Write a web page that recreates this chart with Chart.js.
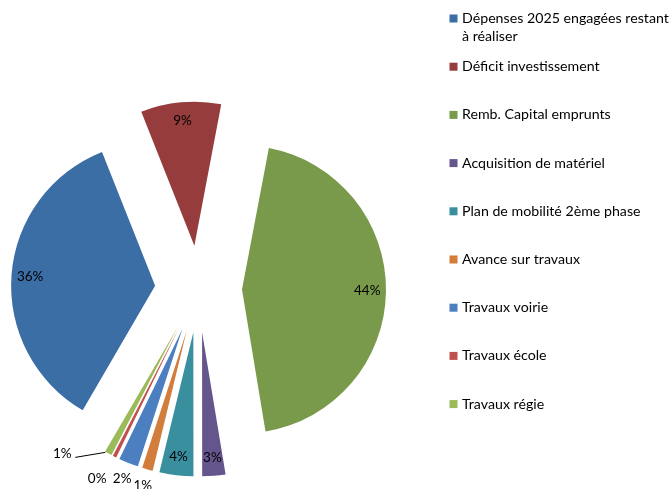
<!DOCTYPE html>
<html>
<head>
<meta charset="utf-8">
<script src="https://cdn.jsdelivr.net/npm/chart.js@4"></script>
<style>
  body { margin: 0; background: #fff; }
  #wrap { width: 670px; height: 489px; }
</style>
</head>
<body>
<div id="wrap"><canvas id="myChart" width="670" height="489"></canvas></div>
<script>
// categories (legend order = slice order, clockwise)
var categories = [
	["Dépenses 2025 engagées restant", "à réaliser"],
	"Déficit investissement",
	"Remb. Capital emprunts",
	"Acquisition de matériel",
	"Plan de mobilité 2ème phase",
	"Avance sur travaux",
	"Travaux voirie",
	"Travaux école",
	"Travaux régie"
];

// share of the total
var values = [35.6, 9.0, 44.4, 2.6, 3.8, 1.2, 2.2, 0.4, 0.8];

var colors = ["#3A6EA5", "#963C3D", "#789A4A", "#64558C", "#3A8F9F", "#D27D3C", "#4B7FC0", "#C0504D", "#9BBB59"];

var EXPLODE = 43.5;
var LABEL_FONT = "13.5px Lato";
var LEGEND_FONT = "14.2px Lato";

// push every slice out along its own middle angle
var explode = {
	id: "explode",
	afterDatasetsUpdate: function(chart) {
		var arcs = chart.getDatasetMeta(0).data;
		arcs.forEach(function(arc) {
			var mid = (arc.startAngle + arc.endAngle) / 2;
			arc.x += EXPLODE * Math.cos(mid);
			arc.y += EXPLODE * Math.sin(mid);
		});
	}
};

// percentage labels
var pieLabels = {
	id: "pieLabels",
	afterDatasetsDraw: function(chart) {
		var ctx = chart.ctx;
		var arcs = chart.getDatasetMeta(0).data;
		var total = values.reduce(function(a, b) { return a + b; }, 0);
		var prev = null;
		ctx.save();
		ctx.font = LABEL_FONT;
		ctx.fillStyle = "#000";
		ctx.strokeStyle = "#000";
		ctx.lineWidth = 1;
		ctx.textAlign = "center";
		ctx.textBaseline = "middle";
		arcs.forEach(function(arc, i) {
			var share = values[i] / total;
			var txt = Math.round(share * 100) + "%";
			var mid = (arc.startAngle + arc.endAngle) / 2;
			var c = Math.cos(mid), s = Math.sin(mid);
			var r = arc.outerRadius;
			if (share >= 0.025) {
				var p = 0.87 * r;
				ctx.fillText(txt, arc.x + c * p, arc.y + s * p);
				return;
			}
			var tipX = arc.x + c * r, tipY = arc.y + s * r;
			var x = arc.x + c * (r + 17), y = arc.y + s * (r + 17);
			if (prev && Math.abs(prev.x - x) < 20 && Math.abs(prev.y - y) < 14) {
				var nx = prev.x - 25;
				if (x - nx > 20) {
					// too crowded: move aside with a leader line
					x = tipX - 46;
					y = tipY;
					ctx.beginPath();
					ctx.moveTo(tipX - 3, tipY - 1);
					ctx.lineTo(tipX - 33, tipY + 4);
					ctx.stroke();
				} else {
					x = nx;
					y = prev.y;
				}
			}
			ctx.fillText(txt, x, y);
			prev = {x: x, y: y};
		});
		ctx.restore();
	}
};

// legend on the right
var legendBox = {
	id: "legendBox",
	afterDraw: function(chart) {
		var ctx = chart.ctx;
		ctx.save();
		ctx.font = LEGEND_FONT;
		ctx.textAlign = "left";
		ctx.textBaseline = "middle";
		categories.forEach(function(label, i) {
			var y = 18.5 + i * 48.2;
			ctx.fillStyle = colors[i];
			ctx.fillRect(449.5, y - 4, 8, 8);
			ctx.fillStyle = "#000";
			var lines = Array.isArray(label) ? label : [label];
			lines.forEach(function(line, k) {
				ctx.fillText(line, 462, y + k * 18);
			});
		});
		ctx.restore();
	}
};

var ctx = document.getElementById("myChart");

var myChart = new Chart(ctx, {
	type: "pie",
	data: {
		labels: categories,
		datasets: [
			{
				data: values,
				backgroundColor: colors,
				borderWidth: 0
			}
		]
	},
	options: {
		responsive: false,
		animation: false,
		events: [],
		rotation: -149.8,
		radius: 144,
		layout: { padding: { left: 0, top: 89, right: 273, bottom: 0 } },
		plugins: {
			legend: { display: false },
			tooltip: { enabled: false }
		}
	},
	plugins: [explode, pieLabels, legendBox]
});
</script>
</body>
</html>
